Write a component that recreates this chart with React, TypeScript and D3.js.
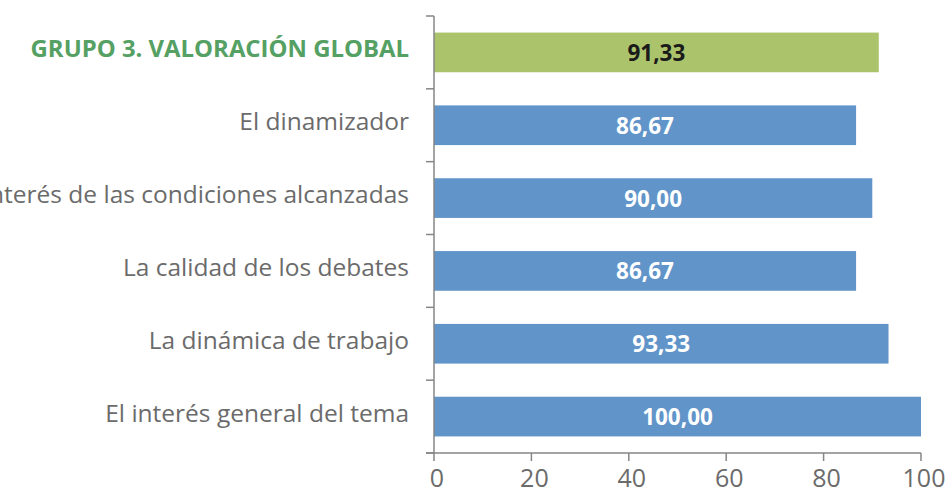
import React from "react";
import * as d3 from "d3";

const categories = [
  "GRUPO 3. VALORACIÓN GLOBAL",
  "El dinamizador",
  "El interés de las condiciones alcanzadas",
  "La calidad de los debates",
  "La dinámica de trabajo",
  "El interés general del tema",
];
const values = [91.33, 86.67, 90.0, 86.67, 93.33, 100.0];
const xTicks = [0, 20, 40, 60, 80, 100];

const W = 945;
const H = 495;
const FONT = "'Open Sans', 'Noto Sans', sans-serif";

export default function App() {
  const x = d3.scaleLinear().domain([0, 100]).range([434, 921]);
  const y = d3.scaleBand<string>().domain(categories).range([16, 453]).paddingInner(0.455).paddingOuter(0.2275);
  const step = y.step();
  const fmt = (v: number) => v.toFixed(2).replace(".", ",");
  const axisColor = "#868686";
  const boundaries = d3.range(categories.length + 1).map((i) => 16 + i * step);
  return (
    <svg width={W} height={H} style={{ position: "absolute", left: 0, top: 0 }}>
      <rect width={W} height={H} fill="#fff" />
      {categories.map((c, i) => {
        const isGroup = i === 0;
        const by = y(c)!;
        const bh = y.bandwidth();
        return (
          <g key={c}>
            <rect x={x(0)} y={by} width={x(values[i]) - x(0)} height={bh} fill={isGroup ? "#ABC46C" : "#6195C9"} />
            <text x={(x(0) + x(values[i])) / 2} y={by + bh / 2 + 8.5} textAnchor="middle"
              fontFamily={FONT} fontWeight="bold" fontSize={22.5} fill={isGroup ? "#1a1a1a" : "#fff"}>
              {fmt(values[i])}
            </text>
            <text x={409} y={by + bh / 2 + 5} textAnchor="end" fontFamily={FONT}
              fontWeight={isGroup ? "bold" : "normal"} fontSize={isGroup ? 23.9 : 24.5}
              fill={isGroup ? "#55A063" : "#6b6b6b"}>
              {c}
            </text>
          </g>
        );
      })}
      <line x1={434} x2={434} y1={16} y2={453} stroke={axisColor} strokeWidth={1.5} />
      {boundaries.map((b, i) => (
        <line key={i} x1={426} x2={434} y1={b} y2={b} stroke={axisColor} strokeWidth={1.5} />
      ))}
      <line x1={426} x2={x(100)} y1={453} y2={453} stroke={axisColor} strokeWidth={1.5} />
      {xTicks.map((t) => (
        <g key={t}>
          <line x1={x(t)} x2={x(t)} y1={453} y2={461} stroke={axisColor} strokeWidth={1.5} />
          <text x={x(t) + 3} y={487} textAnchor="middle" fontFamily={FONT} fontSize={25} fill="#6b6b6b">
            {t}
          </text>
        </g>
      ))}
    </svg>
  );
}
